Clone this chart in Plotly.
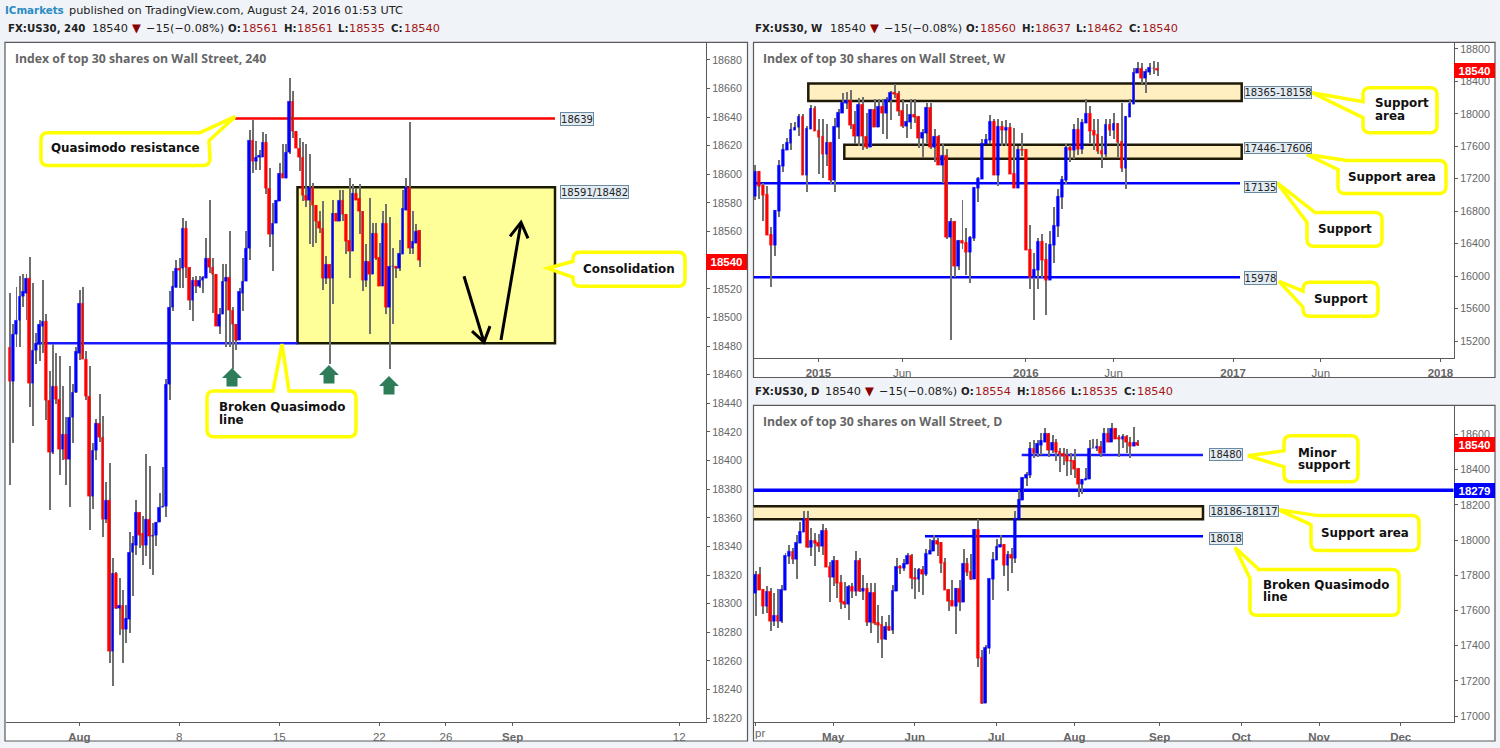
import plotly.graph_objects as go

W, H = 1500, 748
PAGE = "#f0f3f7"
FRAME = "#5a5a5a"

# ---------- 4-hour panel ----------
h4_open = [18479,18455,18488,18498,18515,18517,18527,18454,18477,18481,
18494,18497,18442,18406,18452,18443,18408,18418,18401,18430,
18448,18475,18510,18471,18445,18375,18407,18426,18416,18359,
18372,18267,18321,18297,18299,18282,18289,18336,18341,18364,
18349,18341,18359,18347,18348,18357,18367,18368,18453,18507,
18521,18534,18534,18562,18535,18512,18526,18522,18526,18527,
18541,18535,18530,18494,18502,18525,18528,18505,18495,18484,
18517,18525,18548,18624,18609,18612,18612,18622,18590,18558,
18566,18581,18601,18597,18615,18651,18630,18618,18612,18585,
18582,18591,18578,18567,18562,18527,18537,18527,18573,18567,
18582,18572,18554,18546,18587,18583,18574,18526,18539,18530,
18559,18542,18522,18566,18507,18536,18536,18534,18544,18575,
18591,18548,18552,18561]
h4_high = [18517,18495,18521,18529,18530,18530,18542,18524,18489,18498,
18526,18502,18462,18481,18475,18473,18452,18430,18466,18453,
18479,18519,18521,18476,18466,18412,18429,18446,18431,18385,
18398,18332,18322,18318,18309,18299,18350,18347,18372,18364,
18361,18404,18396,18356,18357,18377,18395,18457,18518,18532,
18540,18541,18569,18567,18535,18528,18529,18529,18529,18555,
18582,18541,18530,18506,18537,18537,18560,18507,18495,18520,
18541,18560,18631,18638,18623,18617,18629,18628,18604,18580,
18582,18608,18621,18621,18667,18658,18630,18625,18622,18621,
18614,18594,18578,18574,18581,18543,18537,18582,18573,18589,
18589,18572,18597,18593,18590,18593,18574,18551,18583,18566,
18566,18552,18574,18579,18570,18548,18536,18554,18589,18597,
18636,18574,18565,18561]
h4_low = [18383,18412,18479,18479,18507,18498,18437,18424,18467,18469,
18475,18428,18365,18404,18439,18390,18400,18383,18367,18412,
18447,18470,18471,18442,18351,18366,18400,18413,18346,18356,
18258,18242,18296,18278,18258,18272,18279,18305,18334,18339,
18327,18333,18324,18320,18340,18357,18367,18360,18442,18504,
18520,18520,18520,18527,18505,18497,18517,18520,18517,18527,
18531,18503,18494,18488,18502,18479,18479,18464,18477,18484,
18504,18525,18540,18601,18603,18603,18612,18586,18549,18532,
18566,18581,18597,18597,18614,18625,18618,18602,18581,18577,
18551,18549,18552,18559,18519,18523,18467,18509,18567,18567,
18567,18544,18527,18546,18582,18558,18518,18521,18488,18530,
18540,18522,18522,18502,18464,18495,18527,18532,18544,18575,
18544,18544,18552,18535]
h4_close = [18455,18488,18498,18515,18518,18527,18454,18477,18482,18495,
18497,18442,18406,18452,18443,18408,18418,18401,18430,18448,
18476,18510,18471,18445,18375,18407,18426,18416,18359,18372,
18267,18321,18297,18299,18282,18290,18336,18342,18364,18348,
18341,18359,18347,18348,18357,18367,18368,18453,18507,18522,
18534,18533,18562,18535,18512,18526,18522,18526,18528,18541,
18535,18530,18494,18502,18525,18528,18505,18495,18484,18518,
18525,18548,18624,18609,18612,18613,18622,18590,18558,18566,
18582,18601,18597,18615,18651,18630,18618,18612,18585,18582,
18591,18578,18567,18562,18527,18537,18527,18573,18567,18582,
18572,18553,18546,18587,18582,18574,18526,18539,18530,18559,
18541,18522,18566,18507,18536,18536,18534,18545,18576,18591,
18548,18553,18560,18540]
h4_tick_bars = [21, 51, 81, 111, 131, 151, 201]
h4_tick_text = ["<b>Aug</b>", "8", "15", "22", "26", "<b>Sep</b>", "12"]
h4_price_ticks = [18680,18660,18640,18620,18600,18580,18560,18520,18500,18480,18460,18440,
                  18420,18400,18380,18360,18340,18320,18300,18280,18260,18240,18220]

# ---------- weekly panel ----------
w_open = [16986,17289,17121,17006,16511,16380,16798,17351,17547,17633,
17793,17830,17965,17240,17805,18063,17793,17719,17498,17645,
17178,17830,18002,18124,18161,17866,17719,18112,17719,17584,
18051,17830,18088,18002,18161,18260,18247,18038,17842,17891,
17989,17965,17694,17756,18075,17584,17719,17363,17486,16478,
16675,16122,16441,16417,16294,16466,17080,17191,17621,17670,
17903,17240,17842,17793,17830,17264,17080,17559,17559,16331,
15987,16073,16429,16208,15950,16380,16613,16970,17178,17584,
17547,17805,17559,17879,18002,17793,17744,17547,17498,17866,
17793,17879,17658,17326,17952,18112,18493,18554,18431,18505,
18565,18560]
w_high = [17363,17289,17142,17105,16597,16810,17428,17621,17703,17887,
17895,17989,17989,17846,18100,18092,17936,17928,17866,17645,
17940,18051,18255,18264,18288,18026,18194,18206,18010,18051,
18173,18173,18182,18206,18276,18366,18276,18173,18112,18173,
18173,17965,17805,18133,18133,17805,17731,17621,17567,16712,
16675,16441,16933,16589,16494,17092,17211,17682,17744,17977,
17928,17928,17907,17916,17887,17817,17600,17756,17559,16626,
16282,16466,16515,16405,16556,16843,17068,17223,17621,17608,
17866,17948,17928,18173,18092,17928,17928,17723,17928,17928,
18010,17887,18124,17965,18173,18562,18636,18616,18542,18624,
18650,18637]
w_low = [16933,16945,16679,16507,15860,16249,16728,17281,17547,17547,
17793,17723,17240,17035,17805,17785,17252,17199,17355,17129,
17035,17682,18002,18051,17813,17621,17600,17547,17559,17584,
17830,17830,17744,17682,17920,18194,17969,17825,17703,17805,
17887,17580,17449,17641,17559,17404,17363,17142,16454,15205,
15983,16073,16331,16011,15909,16433,16904,17191,17621,17621,
17240,17101,17600,17600,17252,17080,17080,17477,16318,15839,
15450,15839,15970,15512,15950,16159,16474,16822,17129,17404,
17436,17486,17498,17879,17641,17547,17498,17326,17469,17723,
17682,17469,17281,17068,17952,18112,18493,18358,18247,18468,
18490,18462]
w_close = [17289,17105,16998,16507,16380,16810,17363,17559,17645,17805,
17838,17965,17240,17817,18063,17785,17711,17498,17645,17178,
17842,18014,18137,18161,17854,17719,18112,17719,17584,18051,
17830,18088,18002,18173,18260,18235,18026,17842,17903,17989,
17952,17694,17768,18075,17584,17719,17363,17486,16478,16675,
16122,16441,16405,16294,16478,17092,17203,17633,17682,17903,
17240,17842,17793,17830,17252,17080,17559,17551,16318,15987,
16085,16429,16196,15950,16392,16626,16982,17191,17584,17547,
17805,17559,17891,18002,17780,17731,17535,17498,17866,17793,
17879,17645,17326,17965,18124,18505,18554,18431,18517,18567,
18560,18540]
w_tick_bars = [16, 37, 68, 90, 120, 142, 172]
w_tick_text = ["<b>2015</b>", "Jun", "<b>2016</b>", "Jun", "<b>2017</b>", "Jun", "<b>2018</b>"]
w_price_ticks = [18800,18400,18000,17600,17200,16800,16400,16000,15600,15200]

# ---------- daily panel ----------
d_open = [17697,17805,17720,17625,17708,17540,17572,17540,17714,17907,
17935,17890,17980,18043,18122,17958,17997,17986,17963,18054,
17850,17788,17884,17759,17652,17635,17737,17708,17884,17708,
17725,17533,17703,17533,17521,17436,17510,17487,17708,17850,
17839,17861,17912,17788,17776,17833,17805,17918,17935,17997,
17986,17873,17720,17657,17623,17725,17646,17867,17822,17776,
18060,17334,17074,17385,17776,17884,17958,17975,17856,17918,
17895,18116,18224,18349,18366,18519,18490,18541,18558,18604,
18507,18553,18502,18490,18479,18451,18451,18405,18315,18339,
18343,18519,18519,18530,18490,18609,18558,18632,18581,18570,
18587,18558,18530,18554]
d_high = [17820,17844,17720,17735,17725,17697,17721,17744,17924,17971,
17952,18024,18099,18165,18165,18065,18037,18031,18088,18065,
17876,17910,17884,17801,17759,17744,17754,17933,17895,17801,
17754,17754,17754,17631,17565,17533,17574,17744,17895,17857,
17890,17927,17918,17839,17839,17848,17948,18003,18024,18009,
17986,17895,17720,17772,17725,17772,17948,17895,17918,18060,
18116,17376,17404,17782,17929,18003,18024,17975,17933,17952,
18165,18283,18354,18386,18556,18566,18566,18604,18636,18604,
18594,18575,18519,18519,18515,18490,18515,18405,18343,18405,
18566,18572,18572,18560,18636,18632,18666,18632,18594,18598,
18594,18585,18638,18566]
d_low = [17565,17714,17578,17584,17483,17512,17499,17527,17714,17863,
17863,17776,17980,18043,17952,17910,17852,17929,17914,17844,
17646,17735,17669,17608,17612,17546,17669,17678,17703,17659,
17508,17470,17517,17414,17329,17432,17480,17465,17708,17805,
17820,17861,17720,17663,17703,17687,17791,17918,17935,17910,
17810,17714,17597,17623,17465,17597,17646,17791,17769,17776,
17278,17064,17074,17351,17659,17884,17958,17791,17710,17810,
17867,18116,18224,18307,18349,18462,18471,18481,18558,18468,
18490,18447,18383,18424,18364,18368,18349,18243,18258,18339,
18343,18519,18504,18468,18490,18556,18558,18575,18468,18524,
18490,18462,18530,18535]
d_close = [17805,17714,17625,17708,17540,17572,17540,17720,17912,17935,
17890,17986,18048,18122,17958,17997,17980,17963,18054,17844,
17788,17884,17754,17646,17635,17737,17708,17884,17708,17725,
17533,17703,17527,17516,17436,17510,17487,17714,17850,17839,
17867,17912,17782,17776,17833,17805,17924,17941,17997,17977,
17867,17714,17652,17623,17725,17646,17867,17816,17776,18060,
17329,17074,17391,17782,17890,17963,17975,17856,17918,17895,
18122,18230,18354,18371,18519,18490,18547,18564,18604,18507,
18553,18496,18485,18473,18445,18445,18400,18315,18343,18349,
18522,18524,18530,18490,18609,18558,18632,18575,18570,18587,
18553,18530,18553,18540]
d_tick_bars = [0, 21, 43, 65, 86, 109, 131, 152, 174]
d_tick_text = ["", "<b>May</b>", "<b>Jun</b>", "<b>Jul</b>", "<b>Aug</b>", "<b>Sep</b>", "<b>Oct</b>", "<b>Nov</b>", "<b>Dec</b>"]
d_price_ticks = [18600,18400,18200,18000,17800,17600,17400,17200,17000]

# ---------- price levels drawn on the charts ----------
h4_zone = (18482, 18591)
h4_resistance = 18639
h4_qm_line = 18482
w_zones = [(18158, 18375), (17446, 17620)]
w_lines = [17145, 15986]
d_zone = (18118, 18192)
d_lines = [18484, 18022]
d_full_line = 18284


def px(x):
    return x / W


def py(y):
    return 1 - y / H


fig = go.Figure()
shapes, annos = [], []


def add_candles(o, h, l, c, xa, ya, body_w, wick_w):
    idx = list(range(len(o)))
    fig.add_trace(go.Bar(x=idx, base=l, y=[a - b for a, b in zip(h, l)], width=wick_w,
                         marker=dict(color="#707070", line=dict(width=0)),
                         xaxis=xa, yaxis=ya, showlegend=False, hoverinfo="skip"))
    cols = ["#0000ff" if b >= a else "#ff0000" for a, b in zip(o, c)]
    fig.add_trace(go.Bar(x=idx, base=[min(a, b) for a, b in zip(o, c)],
                         y=[abs(a - b) for a, b in zip(o, c)], width=body_w,
                         marker=dict(color=cols, line=dict(width=0.25, color=cols)),
                         xaxis=xa, yaxis=ya, showlegend=False, hoverinfo="skip"))


add_candles(h4_open, h4_high, h4_low, h4_close, "x", "y", 0.8, 0.3)
add_candles(w_open, w_high, w_low, w_close, "x2", "y2", 0.72, 0.25)
add_candles(d_open, d_high, d_low, d_close, "x3", "y3", 0.76, 0.27)

TICKFONT = dict(family="Liberation Sans", size=10.7, color="#666666")


def x_axis(rng, l, r, anchor, tv, tt):
    return dict(domain=[px(l), px(r)], range=rng, tickmode="array", tickvals=tv, ticktext=tt,
                showgrid=False, zeroline=False, showline=True, linecolor=FRAME, linewidth=1,
                ticks="outside", ticklen=3, tickcolor=FRAME, anchor=anchor,
                tickfont=dict(family="Liberation Sans", size=11.5, color="#666666"), ticklabelstandoff=1)


def y_axis(rng, top, bot, anchor, tv):
    return dict(domain=[py(bot), py(top)], range=rng, tickmode="array", tickvals=tv,
                ticktext=[str(v) for v in tv], side="right", anchor=anchor,
                showgrid=False, zeroline=False, showline=True, linecolor=FRAME, linewidth=1,
                ticks="outside", ticklen=3, tickcolor=FRAME, tickfont=TICKFONT)


def xi_h4(p):
    return (p - 9.33) / 3.333


def xi_w(p):
    return (p - 754.67) / 3.987


def xi_d(p):
    return (p - 755.33) / 3.709


layout = dict(
    xaxis=x_axis([xi_h4(5.5), xi_h4(706)], 5.5, 706, "y", h4_tick_bars, h4_tick_text),
    yaxis=y_axis([18217.3, 18692.2], 42.5, 724, "x", h4_price_ticks),
    xaxis2=x_axis([xi_w(753.5), xi_w(1454)], 753.5, 1454, "y2", w_tick_bars, w_tick_text),
    yaxis2=y_axis([14991, 18880], 42.5, 359, "x2", w_price_ticks),
    xaxis3=x_axis([xi_d(753.5), xi_d(1454)], 753.5, 1454, "y3", d_tick_bars, d_tick_text),
    yaxis3=y_axis([16966, 18765.5], 406.5, 724, "x3", d_price_ticks),
)

# panel frames
for x0, y0, x1, y1 in [(5, 42.5, 747.5, 743), (753.5, 42.5, 1495, 378.5), (753.5, 406.5, 1495, 743)]:
    shapes.append(dict(type="rect", xref="paper", yref="paper", x0=px(x0), x1=px(x1), y0=py(y0), y1=py(y1),
                       line=dict(color=FRAME, width=1.2), fillcolor="white", layer="below"))


def zone(xr, yr, x0, x1, y0, y1, fill, edge):
    shapes.append(dict(type="rect", xref=xr, yref=yr, x0=x0, x1=x1, y0=y0, y1=y1, fillcolor=fill,
                       line=dict(color=edge, width=2.5), layer="below"))


def level(xr, yr, x0, x1, y, col, w=2.5):
    shapes.append(dict(type="line", xref=xr, yref=yr, x0=x0, x1=x1, y0=y, y1=y,
                       line=dict(color=col, width=w), layer="below"))


zone("x", "y", xi_h4(297.5), xi_h4(555), h4_zone[0], h4_zone[1], "#ffff99", "#1a1a00")
level("x", "y", xi_h4(235), xi_h4(555), h4_resistance, "#ff0000")
level("x", "y", xi_h4(35), xi_h4(297.5), h4_qm_line, "#1a1aff")

zone("x2", "y2", xi_w(808.3), xi_w(1241.7), w_zones[0][0], w_zones[0][1], "#ffefc1", "#1f1a08")
zone("x2", "y2", xi_w(844.3), xi_w(1241.7), w_zones[1][0], w_zones[1][1], "#ffefc1", "#1f1a08")
for v in w_lines:
    level("x2", "y2", xi_w(753.5), xi_w(1240), v, "#0000ff")

zone("x3", "y3", xi_d(750), xi_d(1203), d_zone[0], d_zone[1], "#ffefc1", "#1f1a08")
level("x3", "y3", xi_d(1021.7), xi_d(1203), d_lines[0], "#1a1aff")
level("x3", "y3", xi_d(925), xi_d(1203), d_lines[1], "#0000ff")
level("x3", "y3", xi_d(753.5), xi_d(1453.5), d_full_line, "#0000ff", 3.5)


def poly(points, **kw):
    path = "M " + " L ".join(f"{px(a):.5f},{py(b):.5f}" for a, b in points) + " Z"
    shapes.append(dict(type="path", xref="paper", yref="paper", path=path, layer="above", **kw))


def stroke(points, col="black", w=3):
    path = "M " + " L ".join(f"{px(a):.5f},{py(b):.5f}" for a, b in points)
    shapes.append(dict(type="path", xref="paper", yref="paper", path=path, layer="above",
                       line=dict(color=col, width=w)))


# hand-drawn arrows on the 4h panel
stroke([(464, 277), (484, 343)])
stroke([(472, 332), (484, 343), (490, 327)])
stroke([(501, 341), (521, 223)])
stroke([(510, 237), (521, 223), (528, 239)])

# green up arrows
for cx, t in [(232, 369), (329, 366), (389, 377)]:
    poly([(cx, t), (cx + 10, t + 10), (cx + 5.5, t + 10), (cx + 5.5, t + 18.5), (cx - 5.5, t + 18.5),
          (cx - 5.5, t + 10), (cx - 10, t + 10)], fillcolor="#2e7d58", line=dict(width=0))


def callout(x0, y0, x1, y1, tip, p1, p2, where, r=7):
    """Rounded box with a pointer; p1 -> tip -> p2 run clockwise."""

    def k(a, b):
        return f"{px(a):.5f},{py(b):.5f}"

    d = f"M {k(x0 + r, y0)} "
    ptr = f"L {k(*p1)} L {k(*tip)} L {k(*p2)} "
    if where == "top":
        d += ptr
    if where == "tr":
        d += ptr
    else:
        d += f"L {k(x1 - r, y0)} Q {k(x1, y0)} {k(x1, y0 + r)} "
    d += f"L {k(x1, y1 - r)} Q {k(x1, y1)} {k(x1 - r, y1)} "
    d += f"L {k(x0 + r, y1)} Q {k(x0, y1)} {k(x0, y1 - r)} "
    if where == "left":
        d += ptr
    if where == "tl":
        d += ptr + "Z"
    else:
        d += f"L {k(x0, y0 + r)} Q {k(x0, y0)} {k(x0 + r, y0)} Z"
    shapes.append(dict(type="path", xref="paper", yref="paper", path=d, layer="above",
                       fillcolor="white", line=dict(color="#ffff00", width=3.5)))


def text(x, y, s, size=12, col="#111111", anchor="left", family="DejaVu Sans"):
    annos.append(dict(xref="paper", yref="paper", x=px(x), y=py(y), text=s, showarrow=False,
                      xanchor=anchor, yanchor="middle", borderpad=0,
                      font=dict(family=family, size=size, color=col)))


CS = 11.9
callout(41, 133, 210, 166, (235, 117), (200, 133), (209, 141), "tr")
text(125.5, 148.5, "<b>Quasimodo resistance</b>", CS, anchor="center")
callout(207, 392, 356, 438, (282, 345), (273, 392), (289, 392), "top")
text(218, 408.5, "<b>Broken Quasimodo</b>", CS)
text(218, 421, "<b>line</b>", CS)
callout(573, 253, 685, 287, (548, 269), (573, 278), (573, 262), "left")
text(628.5, 269.5, "<b>Consolidation</b>", CS, anchor="center")
callout(1363, 88, 1437, 133, (1312, 93), (1363, 118), (1363, 102), "left")
text(1374, 103, "<b>Support</b>", CS)
text(1374, 116, "<b>area</b>", CS)
callout(1338, 161, 1446, 194, (1307, 155), (1338, 170), (1347, 161), "tl")
text(1392, 177, "<b>Support area</b>", CS, anchor="center")
callout(1307, 213, 1382, 247, (1277, 183), (1307, 223), (1315, 213), "tl")
text(1345, 230, "<b>Support</b>", CS, anchor="center")
callout(1303, 283, 1378, 317, (1279, 282), (1303, 308), (1303, 292), "left")
text(1341, 300, "<b>Support</b>", CS, anchor="center")
callout(1284, 437, 1358, 483, (1248, 457), (1284, 468), (1284, 452), "left")
text(1297, 454, "<b>Minor</b>", CS)
text(1297, 466, "<b>support</b>", CS)
callout(1311, 517, 1419, 552, (1278, 511), (1311, 526), (1318, 517), "tl")
text(1365, 534, "<b>Support area</b>", CS, anchor="center")
callout(1250, 571, 1399, 617, (1235, 549), (1250, 580), (1259, 571), "tl")
text(1262, 587, "<b>Broken Quasimodo</b>", CS)
text(1262, 599, "<b>line</b>", CS)


def tag(x0, x1, y0, y1, s):
    annos.append(dict(xref="paper", yref="paper", x=px((x0 + x1) / 2), y=py((y0 + y1) / 2), text=s,
                      showarrow=False, xanchor="center", yanchor="middle", width=x1 - x0 - 2, height=y1 - y0 - 2,
                      bgcolor="#e3ecf3", bordercolor="#6a8aa2", borderwidth=1, borderpad=0,
                      font=dict(family="DejaVu Sans", size=10, color="#222222")))


tag(560, 594, 112, 126, "18639")
tag(560, 629, 186, 200, "18591/18482")
tag(1244, 1312, 86, 99, "18365-18158")
tag(1244, 1312, 142, 154, "17446-17606")
tag(1244, 1277, 181, 193, "17135")
tag(1244, 1277, 272, 286, "15978")
tag(1209, 1243, 449, 462, "18480")
tag(1209, 1279, 506, 518, "18186-18117")
tag(1209, 1243, 533, 546, "18018")


def badge(x0, x1, y0, y1, s, col):
    annos.append(dict(xref="paper", yref="paper", x=px((x0 + x1) / 2), y=py((y0 + y1) / 2), text=f"<b>{s}</b>",
                      showarrow=False, xanchor="center", yanchor="middle", width=x1 - x0, height=y1 - y0,
                      bgcolor=col, borderpad=0, borderwidth=0,
                      font=dict(family="Liberation Sans", size=11.5, color="white")))


badge(706, 747, 255, 271, "18540", "#ff0000")
badge(1454, 1495, 63, 78, "18540", "#ff0000")
badge(1454, 1495, 438, 453, "18540", "#ff0000")
badge(1454, 1495, 484, 499, "18279", "#0000ff")

# panel titles
TITLE = "#666666"
text(14, 59, "<b>Index of top 30 shares on Wall Street, 240</b>", 12.25, TITLE, family="Open Sans")
text(762, 59, "<b>Index of top 30 shares on Wall Street, W</b>", 12.25, TITLE, family="Open Sans")
text(762, 423, "<b>Index of top 30 shares on Wall Street, D</b>", 12.25, TITLE, family="Open Sans")


def header(x, v, y, name, o, h, l, c):
    red = "#a31515"
    ink = "#222222"
    text(x, y, f"<b>{name}</b>", 10.2, ink)
    text(v, y, "18540", 11.3, ink)
    text(v + 40, y, "▼", 11.5, "#8b0000")
    text(v + 54, y, "−15", 11.3, ink)
    text(v + 78, y, "(−0.08%)", 11.3, ink)
    for dx, lab, dv, val in [(136, "O:", 150, o), (192, "H:", 205, h), (246, "L:", 257, l), (299, "C:", 312, c)]:
        text(v + dx, y, f"<b>{lab}</b>", 10.2, ink)
        text(v + dv, y, str(val), 11.3, red)


text(4.3, 10.5, "<b>ICmarkets</b>", 10.3, "#2a8cc4")
text(68, 10.5, "published on TradingView.com, August 24, 2016 01:53 UTC", 11.3, "#222222")
header(6.7, 91, 28.5, "FX:US30, 240", 18561, 18561, 18535, 18540)
header(754.3, 829, 28.5, "FX:US30, W", 18560, 18637, 18462, 18540)
header(754.3, 824, 392.5, "FX:US30, D", 18554, 18566, 18535, 18540)
text(754, 735, "pr", 11.5, "#666666", family="Liberation Sans")

fig.update_layout(width=W, height=H, margin=dict(l=0, r=0, t=0, b=0), paper_bgcolor=PAGE, plot_bgcolor="white",
                  barmode="overlay", bargap=0, showlegend=False, shapes=shapes, annotations=annos, **layout)
fig.write_html("out.html", config={"displayModeBar": False},
               post_script="document.body.style.margin='0';document.body.style.overflow='hidden';")
